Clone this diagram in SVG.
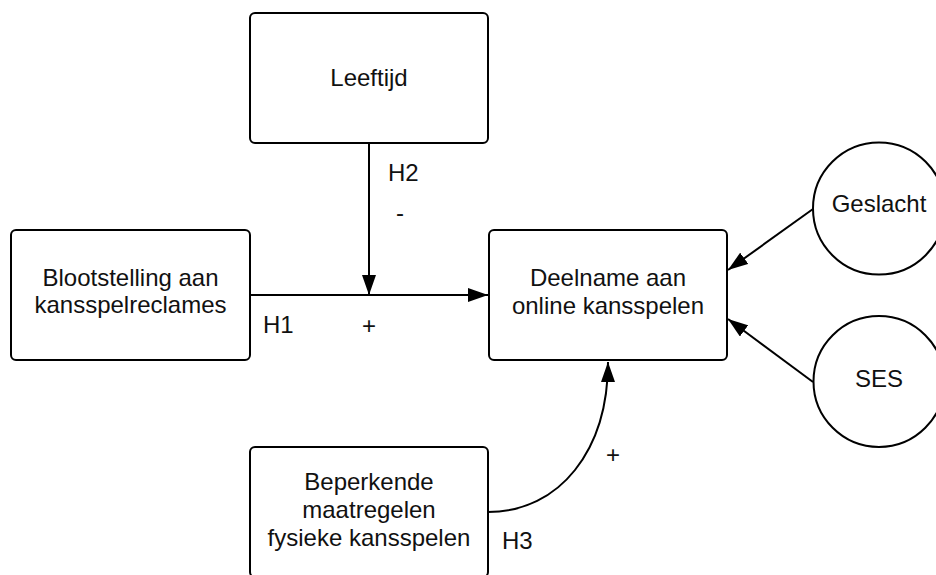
<svg xmlns="http://www.w3.org/2000/svg" width="936" height="575" viewBox="0 0 936 575">
  <defs>
    <style>
      .box { fill: #ffffff; stroke: #000000; stroke-width: 2; }
      .t { font-family: "Liberation Sans", Arial, sans-serif; font-size: 24px; fill: #111111; text-anchor: middle; }
      .l { font-family: "Liberation Sans", Arial, sans-serif; font-size: 24px; fill: #111111; }
      .c { fill: none; stroke: #000000; stroke-width: 2; }
    </style>
    <marker id="ah" viewBox="0 0 20 14" refX="20" refY="7" markerWidth="20" markerHeight="14" markerUnits="userSpaceOnUse" orient="auto">
      <path d="M0,0 L20,7 L0,14 Z" fill="#000000"/>
    </marker>
  </defs>
  <rect width="936" height="575" fill="#ffffff"/>

  <g id="connectors">
    <line class="c" x1="250" y1="295" x2="488" y2="295" marker-end="url(#ah)"/>
    <line class="c" x1="369" y1="143" x2="369" y2="295" marker-end="url(#ah)"/>
    <line class="c" x1="813" y1="209" x2="728" y2="270" marker-end="url(#ah)"/>
    <line class="c" x1="813" y1="382" x2="728" y2="319" marker-end="url(#ah)"/>
    <path class="c" d="M488,512 C560,512 608,450 608,362" marker-end="url(#ah)"/>
    <text class="l" x="388" y="181">H2</text>
    <text class="l" x="396" y="221">-</text>
    <text class="l" x="263" y="333">H1</text>
    <text class="l" x="362" y="334">+</text>
    <text class="l" x="502" y="549">H3</text>
    <text class="l" x="606" y="463">+</text>
  </g>

  <g id="leeftijd">
    <rect class="box" x="250" y="13" width="238" height="130" rx="5"/>
    <text class="t" x="369" y="86">Leeftijd</text>
  </g>

  <g id="blootstelling">
    <rect class="box" x="11" y="230" width="239" height="130" rx="5"/>
    <text class="t" x="130.5" y="286">Blootstelling aan</text>
    <text class="t" x="130.5" y="313">kansspelreclames</text>
  </g>

  <g id="deelname">
    <rect class="box" x="489" y="230" width="238" height="130" rx="5"/>
    <text class="t" x="608" y="286">Deelname aan</text>
    <text class="t" x="608" y="314">online kansspelen</text>
  </g>

  <g id="beperkende">
    <rect class="box" x="250" y="447" width="238" height="130" rx="5"/>
    <text class="t" x="369" y="490">Beperkende</text>
    <text class="t" x="369" y="518">maatregelen</text>
    <text class="t" x="369" y="546">fysieke kansspelen</text>
  </g>

  <g id="geslacht">
    <circle class="box" cx="879" cy="208.5" r="66"/>
    <text class="t" x="879" y="212">Geslacht</text>
  </g>

  <g id="ses">
    <circle class="box" cx="879" cy="381.5" r="65.5"/>
    <text class="t" x="879" y="387">SES</text>
  </g>
</svg>
